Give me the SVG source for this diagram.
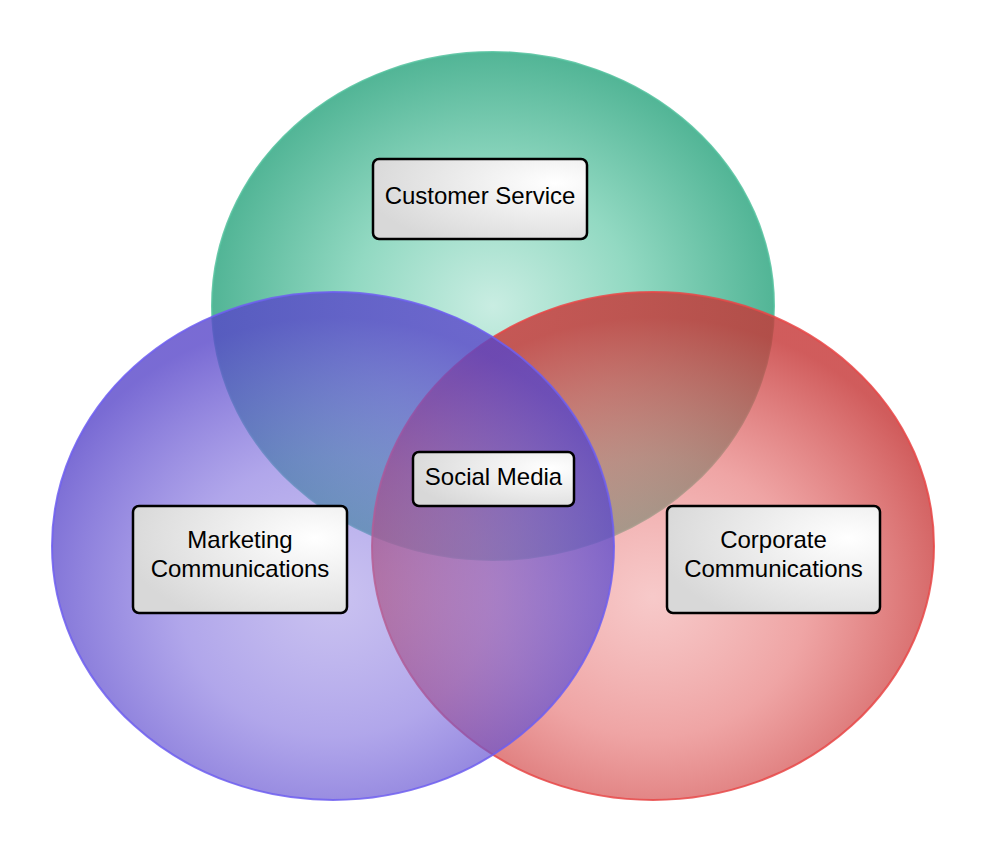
<svg xmlns="http://www.w3.org/2000/svg" width="987" height="853" viewBox="0 0 987 853">
  <defs>
    <radialGradient id="gGreen" cx="0.5" cy="0.5" r="0.5">
      <stop offset="0" stop-color="#c9ede2"/>
      <stop offset="0.5" stop-color="#92d9c2"/>
      <stop offset="1" stop-color="#52b596"/>
    </radialGradient>
    <radialGradient id="gPurple" cx="0.5" cy="0.6" r="0.55">
      <stop offset="0" stop-color="#9181e1" stop-opacity="0.48"/>
      <stop offset="0.5" stop-color="#7866dc" stop-opacity="0.58"/>
      <stop offset="1" stop-color="#5846c9" stop-opacity="0.8"/>
    </radialGradient>
    <radialGradient id="gRed" cx="0.5" cy="0.6" r="0.55">
      <stop offset="0" stop-color="#ef9494" stop-opacity="0.5"/>
      <stop offset="0.5" stop-color="#e56d6d" stop-opacity="0.62"/>
      <stop offset="1" stop-color="#c63838" stop-opacity="0.82"/>
    </radialGradient>
    <radialGradient id="gBox" cx="0.85" cy="0.3" r="0.9">
      <stop offset="0" stop-color="#ffffff"/>
      <stop offset="1" stop-color="#d8d8d8"/>
    </radialGradient>
    <style>
      .circ { stroke-width: 2; stroke-opacity: 0.85; }
      .box { fill: url(#gBox); stroke: #000000; stroke-width: 2.5; }
      .lbl { font-family: "Liberation Sans", Arial, sans-serif; font-size: 24px; fill: #000000; text-anchor: middle; }
    </style>
  </defs>

  <g id="circle-customer-service">
    <ellipse class="circ" cx="493" cy="306" rx="281" ry="254" fill="url(#gGreen)" stroke="#52c09c"/>
  </g>
  <g id="circle-corporate-communications">
    <ellipse class="circ" cx="653" cy="546" rx="281" ry="254" fill="url(#gRed)" stroke="#e84848"/>
  </g>
  <g id="circle-marketing-communications">
    <ellipse class="circ" cx="333" cy="546" rx="281" ry="254" fill="url(#gPurple)" stroke="#6e5ff0"/>
  </g>

  <g id="connectors"></g>

  <g id="node-customer-service">
    <rect class="box" x="373" y="159" width="214" height="80" rx="6"/>
    <text class="lbl" x="480" y="204">Customer Service</text>
  </g>
  <g id="node-social-media">
    <rect class="box" x="413" y="452" width="161" height="54" rx="6"/>
    <text class="lbl" x="493.5" y="485">Social Media</text>
  </g>
  <g id="node-marketing-communications">
    <rect class="box" x="133" y="506" width="214" height="107" rx="6"/>
    <text class="lbl" x="240" y="548">Marketing</text>
    <text class="lbl" x="240" y="577">Communications</text>
  </g>
  <g id="node-corporate-communications">
    <rect class="box" x="667" y="506" width="213" height="107" rx="6"/>
    <text class="lbl" x="773.5" y="548">Corporate</text>
    <text class="lbl" x="773.5" y="577">Communications</text>
  </g>
</svg>
